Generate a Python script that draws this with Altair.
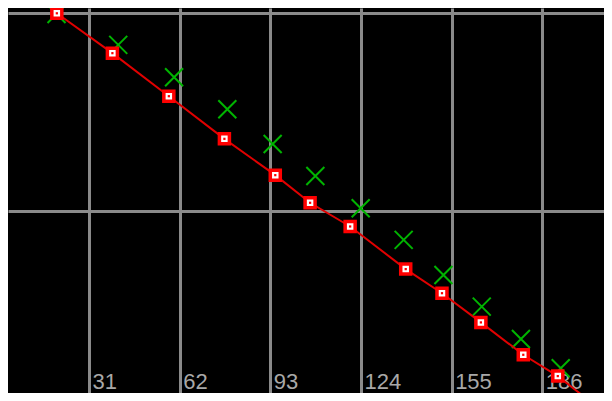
import altair as alt
import pandas as pd

# values
red_x = [20.0, 39.0, 58.3, 77.3, 94.7, 106.6, 120.3, 139.3, 151.7, 165.0, 179.5, 191.3, 204.4]
red_y = [100.0, 89.9, 79.0, 68.2, 59.0, 52.0, 46.0, 35.2, 29.1, 21.7, 13.5, 8.1, 0.5]
green_x = [19.9, 41.0, 60.1, 78.3, 93.8, 108.4, 123.9, 138.6, 152.2, 165.3, 178.7, 192.3, 204.2]
green_y = [99.8, 92.0, 83.8, 75.7, 66.9, 58.8, 50.6, 42.6, 33.7, 25.7, 17.5, 10.1, 0.5]
x_ticks = [0, 31, 62, 93, 124, 155, 186, 217]
y_grid = [0, 50, 100]

red = pd.DataFrame({"x": red_x, "y": red_y})
green = pd.DataFrame({"x": green_x, "y": green_y})

xs = alt.Scale(domain=[3.303, 207.10], nice=False, zero=False)
ys = alt.Scale(domain=[3.82, 101.34], nice=False, zero=False)

xaxis = alt.Axis(values=x_ticks, title=None, grid=True, ticks=False, domain=False,
                 labelAlign="left", labelBaseline="alphabetic", labelPadding=0,
                 offset=-5, labelOffset=3, labelOverlap=False, labelFlush=False,
                 labelBound=False, labelColor="#a8a8a8", labelFont="Liberation Sans",
                 labelFontSize=22, gridColor="#8a8a8a", gridWidth=3, format="d")
yaxis = alt.Axis(values=y_grid, title=None, grid=True, ticks=False, domain=False,
                 labels=False, gridColor="#8a8a8a", gridWidth=3)

X_PATH = "M-1,-1L1,1M-1,1L1,-1"

g = alt.Chart(green).mark_point(shape=X_PATH, size=324, stroke="#00b400",
                                strokeWidth=2, filled=False, opacity=1).encode(
    x=alt.X("x:Q", scale=xs, axis=xaxis),
    y=alt.Y("y:Q", scale=ys, axis=yaxis),
)
line = alt.Chart(red).mark_line(color="#e00000", strokeWidth=2).encode(
    x=alt.X("x:Q", scale=xs), y=alt.Y("y:Q", scale=ys))
sq = alt.Chart(red).mark_point(shape="square", size=100, fill="white", filled=True,
                               stroke="#ff0000", strokeWidth=3.5, opacity=1).encode(
    x=alt.X("x:Q", scale=xs), y=alt.Y("y:Q", scale=ys))
dot = alt.Chart(red).mark_point(shape="square", size=5, fill="#ff0000", filled=True,
                                strokeWidth=0, opacity=1).encode(
    x=alt.X("x:Q", scale=xs), y=alt.Y("y:Q", scale=ys))

chart = alt.layer(g, line, sq, dot).properties(
    width=596, height=385, padding=0,
    autosize=alt.AutoSizeParams(type="none"),
    background="black",
).configure_view(stroke=None, fill="black")

chart.save("out.html", embed_options={"renderer": "svg", "actions": False})
